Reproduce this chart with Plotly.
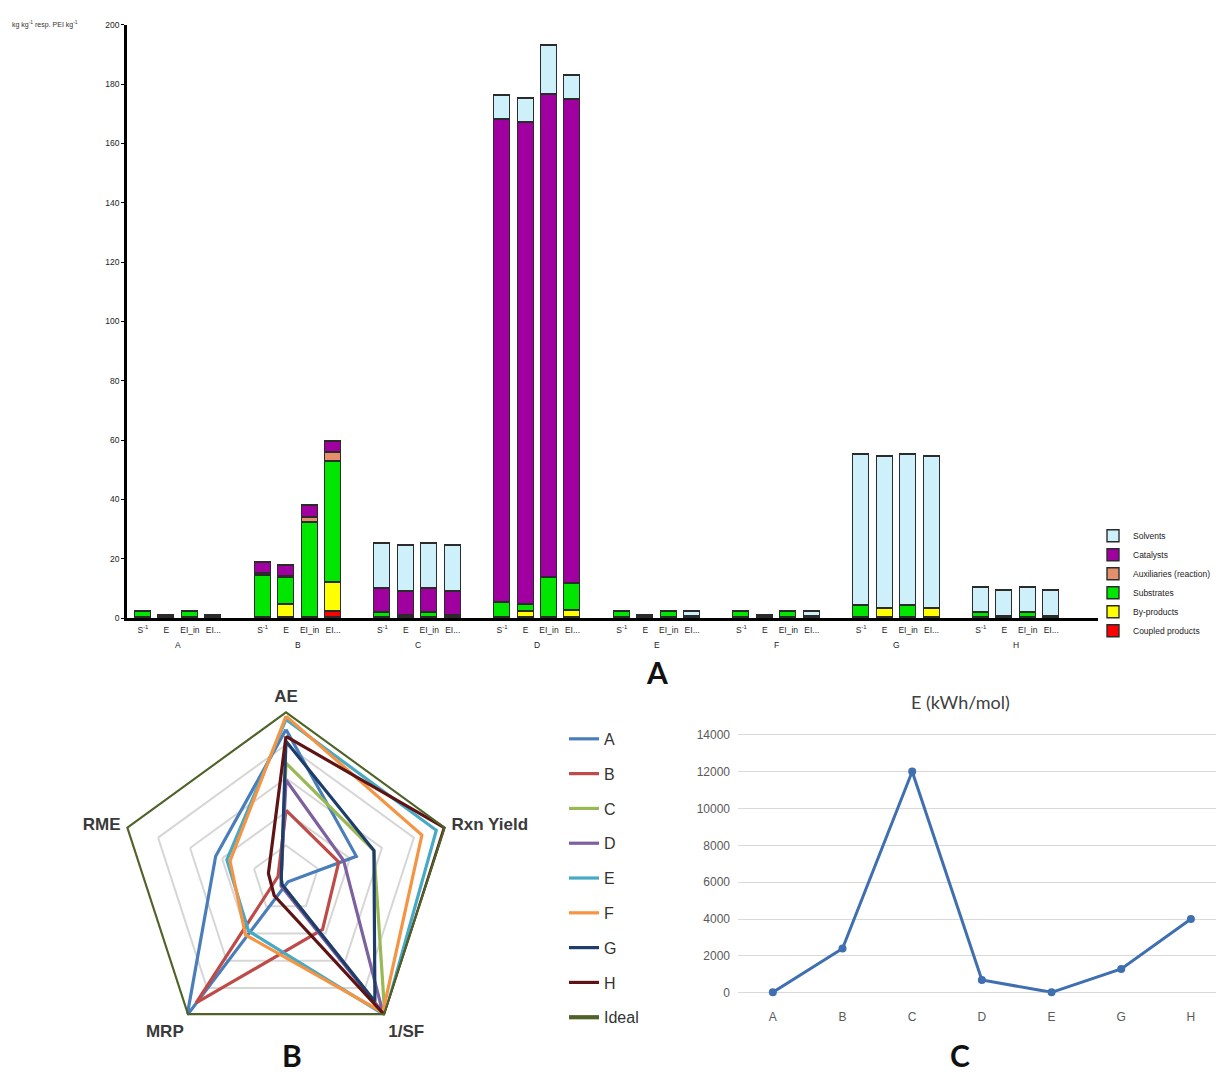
import plotly.graph_objects as go

W, H = 1216, 1077

def px_x(p):
    return p / W

def px_y(p):
    return 1 - p / H

# ---------------- Panel A: stacked mass / environmental indices ----------------
routes = ["A", "B", "C", "D", "E", "F", "G", "H"]
metrics = ["S<sup>-1</sup>", "E", "EI_in", "EI..."]

# one value per (route, metric), route-major order
coupled_products = [0, 0, 0, 0,   0, 0, 0, 2.2,   0, 0, 0, 0,   0, 0, 0, 0,
                    0, 0, 0, 0,   0, 0, 0, 0,     0, 0, 0, 0,   0, 0, 0, 0]
by_products = [0, 0.9, 0, 0.9,   0, 4.4, 0, 9.8,   0, 0.8, 0, 0.8,   0, 2.0, 0, 2.5,
               0, 0.8, 0, 0.6,   0, 0.8, 0, 0.4,   0, 3.1, 0, 3.1,   0, 0.5, 0, 0.5]
substrates = [2.2, 0, 2.2, 0,   14.3, 9.2, 32.2, 40.6,   1.9, 0, 1.9, 0,   5.0, 2.5, 13.5, 9.0,
              2.1, 0, 2.1, 0,   2.1, 0, 2.1, 0,         4.2, 0, 4.2, 0,   1.8, 0, 1.8, 0]
auxiliaries = [0, 0, 0, 0,   0.5, 0.3, 1.7, 3.0,   0, 0, 0, 0,   0, 0, 0, 0,
               0, 0, 0, 0,   0, 0, 0, 0,           0, 0, 0, 0,   0, 0, 0, 0]
catalysts = [0, 0, 0, 0,   3.8, 3.8, 3.8, 4.0,   8.1, 8.1, 8.1, 8.1,   163.0, 162.5, 163.0, 163.2,
             0, 0, 0, 0,   0, 0, 0, 0,           0, 0, 0, 0,           0, 0, 0, 0]
solvents = [0, 0, 0, 0,   0, 0, 0, 0,   15.2, 15.4, 15.2, 15.4,   8.0, 8.2, 16.3, 8.0,
            0, 0, 0, 1.5,   0, 0, 0, 1.6,   51.0, 51.2, 51.0, 51.2,   8.4, 8.6, 8.4, 8.6]

components = [
    ("Coupled products", coupled_products, "#ff0000"),
    ("By-products", by_products, "#ffff00"),
    ("Substrates", substrates, "#00e600"),
    ("Auxiliaries (reaction)", auxiliaries, "#e5906c"),
    ("Catalysts", catalysts, "#a000a0"),
    ("Solvents", solvents, "#cdf0fa"),
]

GROUP_STEP = 5.1
bar_x = [g * GROUP_STEP + m for g in range(len(routes)) for m in range(len(metrics))]
bar_text = [metrics[m] for g in range(len(routes)) for m in range(len(metrics))]

# ---------------- Panel B: radar of green metrics ----------------
radar_axes = ["AE", "Rxn Yield", "1/SF", "MRP", "RME"]
radar_names = ["A", "B", "C", "D", "E", "F", "G", "H", "Ideal"]
radar_values = {
    "A": [0.89, 0.44, 0.02, 1.00, 0.44],
    "B": [0.41, 0.33, 0.37, 0.91, 0.05],
    "C": [0.69, 0.55, 1.00, 0.04, 0.03],
    "D": [0.59, 0.36, 0.98, 0.05, 0.03],
    "E": [0.95, 0.94, 1.00, 0.38, 0.37],
    "F": [0.97, 0.85, 0.98, 0.41, 0.35],
    "G": [0.82, 0.55, 0.90, 0.04, 0.03],
    "H": [0.85, 0.99, 1.00, 0.12, 0.11],
    "Ideal": [1.0, 1.0, 1.0, 1.0, 1.0],
}
radar_colors = {
    "A": "#4a7ebb", "B": "#be4b48", "C": "#98b954", "D": "#7d60a0",
    "E": "#46aac5", "F": "#f59443", "G": "#1f3d6b", "H": "#5e1414",
    "Ideal": "#4f6228",
}

# ---------------- Panel C: energy demand ----------------
energy_routes = ["A", "B", "C", "D", "E", "G", "H"]
energy_kwh = [30, 2400, 12000, 700, 30, 1300, 4000]

fig = go.Figure()

for name, vals, color in components:
    fig.add_trace(go.Bar(
        x=bar_x, y=vals, name=name, width=0.68,
        marker=dict(color=color, line=dict(color="#2b2b2b", width=1.4)),
        xaxis="x", yaxis="y", legend="legend",
    ))

for name in radar_names:
    r = radar_values[name] + radar_values[name][:1]
    th = radar_axes + radar_axes[:1]
    fig.add_trace(go.Scatterpolar(
        r=r, theta=th, mode="lines", name=name, subplot="polar",
        line=dict(color=radar_colors[name], width=4.2 if name == "Ideal" else 3.2),
        legend="legend2", legendgroup=name,
    ))

fig.add_trace(go.Scatter(
    x=energy_routes, y=energy_kwh, mode="lines+markers",
    line=dict(color="#3f6fb0", width=3),
    marker=dict(size=8, color="#3f6fb0"),
    xaxis="x2", yaxis="y2", showlegend=False, cliponaxis=False,
))

axis_font = dict(family="Liberation Sans, Arial, sans-serif", size=8.5, color="#222222")

annotations = []
# route labels under each group of bars
for g, route in enumerate(routes):
    annotations.append(dict(
        x=g * GROUP_STEP + 1.5, y=px_y(647), xref="x", yref="paper",
        text=route, showarrow=False, font=axis_font,
        xanchor="center", yanchor="middle",
    ))
# unit label above the value axis
annotations.append(dict(
    x=px_x(10), y=px_y(20), xref="paper", yref="paper", xanchor="left", yanchor="middle",
    text="kg kg<sup>-1</sup> resp. PEI kg<sup>-1</sup>", showarrow=False,
    font=dict(family="Liberation Sans, Arial, sans-serif", size=7, color="#333333"),
))
# energy chart title
annotations.append(dict(
    x=px_x(960), y=px_y(705), xref="paper", yref="paper",
    xanchor="center", yanchor="middle",
    text="E (kWh/mol)", showarrow=False,
    font=dict(family="Lato, Open Sans, sans-serif", size=18, color="#404040"),
))
# panel letters
for letter, lx, ly in [("A", 657, 675), ("B", 292, 1062), ("C", 960, 1062)]:
    annotations.append(dict(
        x=px_x(lx), y=px_y(ly), xref="paper", yref="paper",
        xanchor="center", yanchor="middle",
        text=f"<b>{letter}</b>", showarrow=False,
        font=dict(family="Lato, Open Sans, sans-serif", size=30, color="#111111"),
    ))

x_left = -0.68
x_right = x_left + (1098 - 127) / 23.47

RADAR_R = 170
RADAR_CX, RADAR_CY = 286, 884

fig.update_layout(
    width=W, height=H,
    margin=dict(l=0, r=0, t=0, b=0),
    paper_bgcolor="white", plot_bgcolor="white",
    barmode="stack", bargap=0,
    font=dict(family="Liberation Sans, Arial, sans-serif"),
    xaxis=dict(
        domain=[px_x(127), px_x(1098)], range=[x_left, x_right],
        tickmode="array", tickvals=bar_x, ticktext=bar_text,
        showline=True, linecolor="#000000", linewidth=2.5,
        ticks="", showgrid=False, zeroline=False, tickfont=axis_font,
        ticklabelstandoff=2, anchor="y",
    ),
    yaxis=dict(
        domain=[px_y(620), px_y(20)], range=[0, 200], dtick=20,
        showline=True, linecolor="#000000", linewidth=2.5,
        ticks="outside", ticklen=3, tickwidth=1, tickcolor="#000000",
        showgrid=False, zeroline=False, tickfont=axis_font,
        anchor="x",
    ),
    xaxis2=dict(
        domain=[px_x(738), 1.0], range=[-0.5, 6.36], type="category",
        showgrid=False, showline=False, zeroline=False, ticks="",
        ticklabelstandoff=15,
        tickfont=dict(family="Liberation Sans, Arial, sans-serif", size=12, color="#595959"),
        anchor="y2",
    ),
    yaxis2=dict(
        domain=[px_y(999), px_y(736)], range=[0, 14100], dtick=2000, tickformat="d",
        showgrid=True, gridcolor="#d9d9d9", gridwidth=1.3,
        zeroline=True, zerolinecolor="#d9d9d9", zerolinewidth=1.3,
        showline=False, ticks="", ticklabelstandoff=7,
        tickfont=dict(family="Liberation Sans, Arial, sans-serif", size=12, color="#595959"),
        anchor="x2",
    ),
    polar=dict(
        domain=dict(x=[px_x(RADAR_CX - RADAR_R), px_x(RADAR_CX + RADAR_R)],
                    y=[px_y(RADAR_CY + RADAR_R), px_y(RADAR_CY - RADAR_R)]),
        gridshape="linear", bgcolor="white",
        radialaxis=dict(range=[0, 1], tickvals=[0.2, 0.4, 0.6, 0.8, 1.0],
                        showticklabels=False, ticks="", showline=False,
                        gridcolor="#d6d6d6", gridwidth=1.5),
        angularaxis=dict(direction="clockwise", rotation=90, showgrid=False,
                         showline=False, ticks="outside", ticklen=2,
                         tickcolor="rgba(0,0,0,0)",
                         tickfont=dict(family="Liberation Sans, Arial, sans-serif",
                                       size=17, color="#3a3a3a", weight="bold")),
    ),
    legend=dict(
        x=px_x(1093), y=px_y(522), xanchor="left", yanchor="top",
        traceorder="reversed", bgcolor="rgba(0,0,0,0)",
        font=dict(family="Liberation Sans, Arial, sans-serif", size=8.5, color="#222222"),
    ),
    legend2=dict(
        x=px_x(564), y=px_y(725), xanchor="left", yanchor="top",
        traceorder="grouped", tracegroupgap=11, bgcolor="rgba(0,0,0,0)",
        font=dict(family="Liberation Sans, Arial, sans-serif", size=16, color="#333333"),
    ),
    annotations=annotations,
)

fig.write_html("out.html")
